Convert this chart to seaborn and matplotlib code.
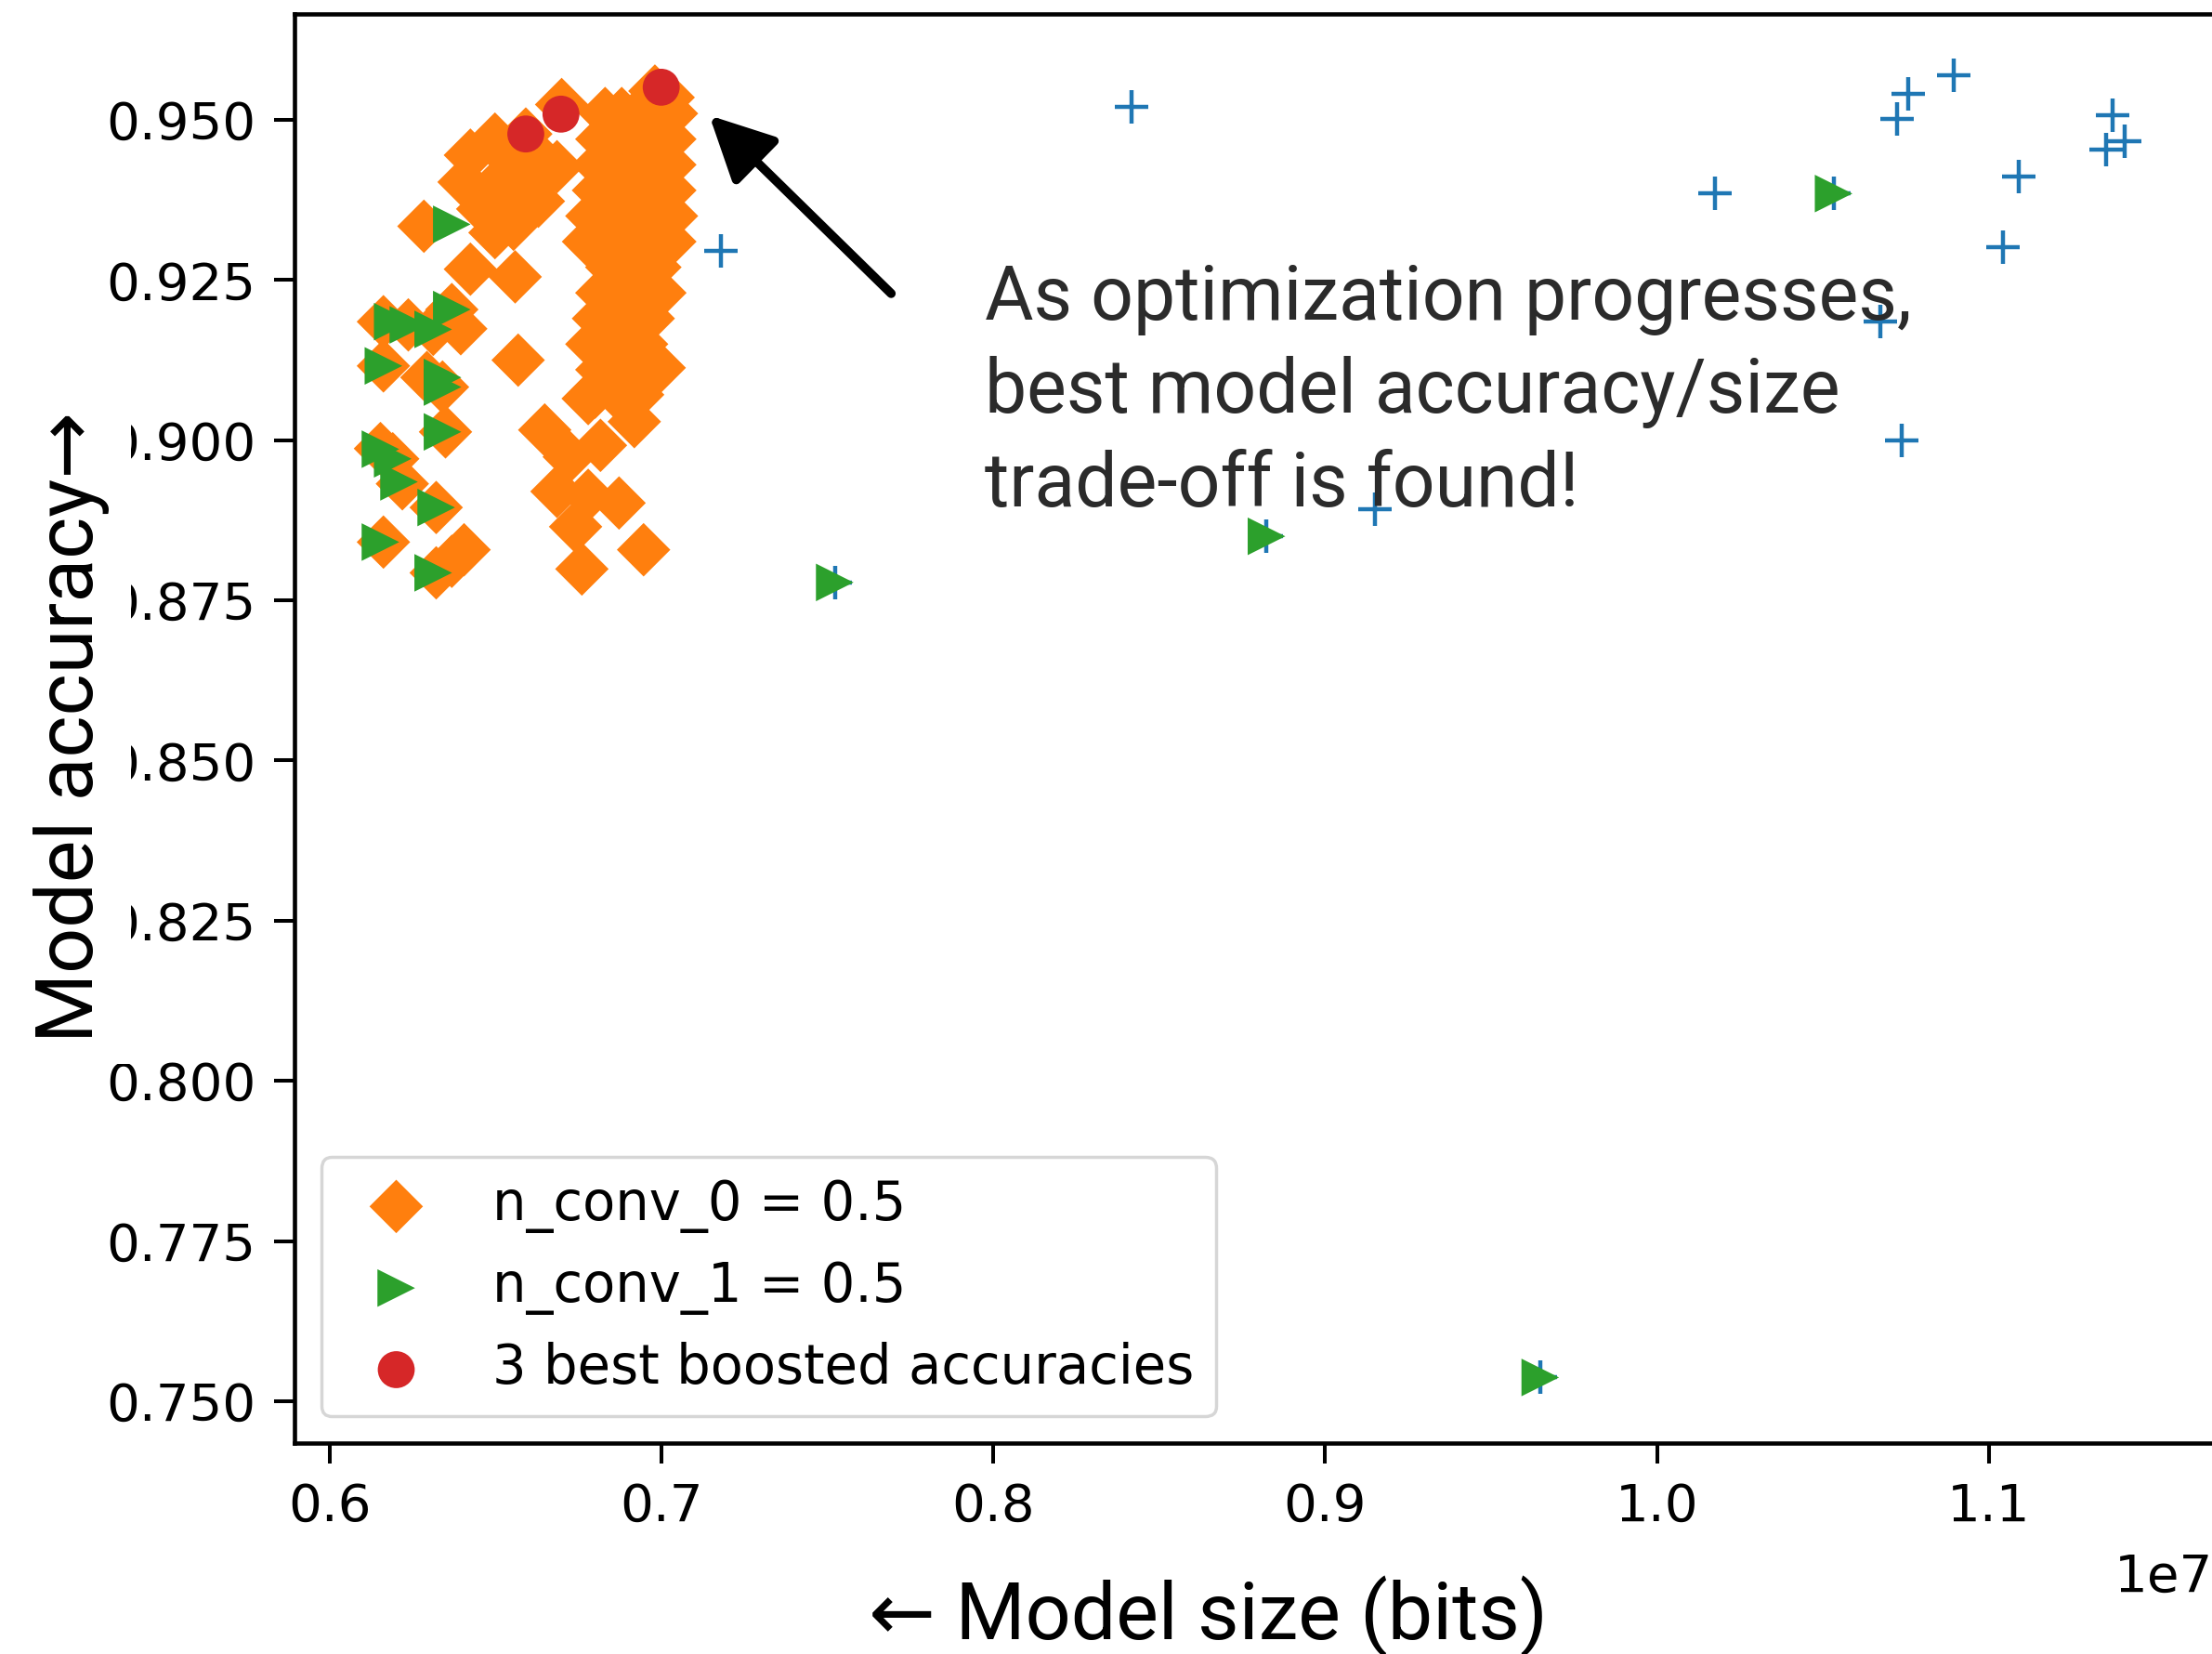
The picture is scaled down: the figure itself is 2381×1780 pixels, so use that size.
import matplotlib
matplotlib.use("Agg")
import matplotlib.pyplot as plt
import matplotlib.transforms as mtransforms
import seaborn as sns
import numpy as np
import pandas as pd

plt.rcParams['font.family'] = ['DejaVu Sans']

# ---------------- data (model size in units of 1e7 bits) ----------------
all_size = [0.8415, 0.7178, 1.0175, 1.0894, 1.0756, 1.0723, 1.1374, 1.1408, 1.1353,
            1.1089, 1.1043, 1.0673, 1.0736, 0.9150, 1.0532, 0.8823, 0.7522, 0.9648]
all_acc = [0.9520, 0.9295, 0.9385, 0.9570, 0.9540, 0.9502, 0.9507, 0.9467, 0.9454,
           0.9412, 0.9302, 0.9185, 0.9000, 0.8892, 0.9385, 0.8850, 0.8778, 0.7537]

conv0_size = [
    0.6284, 0.6424, 0.6559, 0.6568, 0.6395, 0.6162, 0.6237, 0.6312, 0.6368, 0.6162,
    0.6293, 0.6340, 0.6349, 0.6153, 0.6190, 0.6219, 0.6321, 0.6162, 0.6321, 0.6405,
    0.6368, 0.6648, 0.6722, 0.6816, 0.6918, 0.6946, 0.6685, 0.6779, 0.6872, 0.6741,
    0.6760, 0.6993, 0.6779, 0.6928,
    0.6424, 0.6498, 0.6554, 0.6648, 0.6405, 0.6498, 0.6610, 0.6685, 0.6461, 0.6554,
    0.6629, 0.6498, 0.6554, 0.6699, 0.6591, 0.6580,
    0.698, 0.702,
    0.683, 0.688, 0.693, 0.698, 0.703,
    0.682, 0.687, 0.692, 0.697, 0.7025,
    0.681, 0.686, 0.691, 0.696, 0.7025,
    0.681, 0.686, 0.691, 0.696, 0.7025,
    0.679, 0.684, 0.689, 0.694, 0.699, 0.703,
    0.678, 0.683, 0.688, 0.693, 0.698, 0.7025,
    0.685, 0.690, 0.694, 0.698,
    0.682, 0.687, 0.692, 0.696, 0.6995,
    0.681, 0.686, 0.691, 0.696,
    0.679, 0.684, 0.689, 0.694,
    0.682, 0.687, 0.692, 0.698,
    0.680, 0.686,
]
conv0_acc = [
    0.9334, 0.9267, 0.9255, 0.9125, 0.9174, 0.9185, 0.9180, 0.9173, 0.9204, 0.9116,
    0.9098, 0.9083, 0.9013, 0.8987, 0.8971, 0.8932, 0.8895, 0.8841, 0.8793, 0.8829,
    0.8811, 0.9016, 0.8974, 0.8992, 0.9029, 0.8829, 0.8920, 0.8914, 0.8902, 0.8865,
    0.8799, 0.9113, 0.9065, 0.9071,
    0.9445, 0.9470, 0.9433, 0.9433, 0.9403, 0.9397, 0.9397, 0.9427, 0.9361, 0.9361,
    0.9373, 0.9324, 0.9337, 0.9524, 0.9478, 0.9460,
    0.9545, 0.9535,
    0.951, 0.951, 0.951, 0.951, 0.951,
    0.947, 0.947, 0.947, 0.947, 0.947,
    0.943, 0.943, 0.943, 0.943, 0.943,
    0.939, 0.939, 0.939, 0.939, 0.939,
    0.935, 0.935, 0.935, 0.935, 0.935, 0.935,
    0.931, 0.931, 0.931, 0.931, 0.931, 0.931,
    0.927, 0.927, 0.927, 0.927,
    0.923, 0.923, 0.923, 0.923, 0.923,
    0.919, 0.919, 0.919, 0.919,
    0.915, 0.915, 0.915, 0.915,
    0.911, 0.911, 0.911, 0.911,
    0.9075, 0.9075,
]

conv1_size = [0.6368, 0.6190, 0.6237, 0.6312, 0.6368, 0.6162, 0.6340, 0.6340, 0.6340,
              0.6153, 0.6190, 0.6209, 0.6321, 0.6153, 0.6312, 0.7522, 0.8823, 1.0532,
              0.9648]
conv1_acc = [0.9337, 0.9185, 0.9180, 0.9173, 0.9204, 0.9116, 0.9098, 0.9083, 0.9013,
             0.8986, 0.8971, 0.8935, 0.8895, 0.8841, 0.8793, 0.8778, 0.8850, 0.9385,
             0.7537]

best_size = [0.6591, 0.6697, 0.6999]
best_acc = [0.9478, 0.9509, 0.9551]

x_ticks = [0.6, 0.7, 0.8, 0.9, 1.0, 1.1]
y_ticks = [0.750, 0.775, 0.800, 0.825, 0.850, 0.875, 0.900, 0.925, 0.950]

legend_labels = ["n_conv_0 = 0.5", "n_conv_1 = 0.5", "3 best boosted accuracies"]
annotation = "As optimization progresses,\nbest model accuracy/size\ntrade-off is found!"
x_label = "\u2190 Model size (bits)"
y_label = "Model accuracy\u2192"

SCALE = 1e7
df_all = pd.DataFrame({"size": np.array(all_size) * SCALE, "acc": all_acc})
df_c0 = pd.DataFrame({"size": np.array(conv0_size) * SCALE, "acc": conv0_acc})
df_c1 = pd.DataFrame({"size": np.array(conv1_size) * SCALE, "acc": conv1_acc})
df_best = pd.DataFrame({"size": np.array(best_size) * SCALE, "acc": best_acc})

# ---------------- figure ----------------
W, H = 2381, 1780
fig = plt.figure(figsize=(W / 100, H / 100), dpi=100)
ax = fig.add_axes([317 / W, 227 / H, 2065 / W, 1538 / H])

sns.scatterplot(data=df_all, x="size", y="acc", marker="+", s=650, color="#1f77b4",
                linewidth=3.2, ax=ax, legend=False)
sns.scatterplot(data=df_c0, x="size", y="acc", marker="D", s=860, color="#ff7f0e",
                edgecolor="none", linewidth=0, ax=ax, label=legend_labels[0])
sns.scatterplot(data=df_c1, x="size", y="acc", marker=">", s=850, color="#2ca02c",
                edgecolor="none", linewidth=0, ax=ax, label=legend_labels[1])
sns.scatterplot(data=df_best, x="size", y="acc", marker="o", s=820, color="#d62728",
                edgecolor="none", linewidth=0, ax=ax, label=legend_labels[2])

ax.set_xlim(0.5894 * SCALE, 1.1675 * SCALE)
ax.set_ylim(0.74346, 0.96654)
ax.set_xticks(np.array(x_ticks) * SCALE)
ax.set_yticks(y_ticks)

for sp in ax.spines.values():
    sp.set_linewidth(3.3)
    sp.set_color("black")
ax.tick_params(axis="both", length=16, width=2.9, pad=14, labelsize=40.5,
               colors="black")
offset_txt = ax.xaxis.get_offset_text()
offset_txt.set_fontsize(40.5)
offset_txt.set_transform(offset_txt.get_transform()
                         + mtransforms.ScaledTranslation(0, -13 / 72,
                                                         fig.dpi_scale_trans))

lab_font = ["Roboto", "DejaVu Sans"]
ax.set_xlabel(x_label, fontsize=62, family=lab_font, color="black")
ax.xaxis.set_label_coords(0.476, -0.093)
ax.set_ylabel(y_label, fontsize=62, family=lab_font, color="black",
              bbox=dict(facecolor="white", edgecolor="none", pad=17))
ax.yaxis.set_label_coords(-0.0965, 0.5010)

leg = ax.legend(loc="lower left", fontsize=41.5, borderaxespad=0.5,
                handletextpad=0.8)
leg.get_frame().set_linewidth(2.5)

ax.annotate("", xy=(0.7144 * SCALE, 0.9507), xytext=(0.7692 * SCALE, 0.9229),
            arrowprops=dict(arrowstyle="-|>,head_length=0.4,head_width=0.2",
                            color="black", lw=7, mutation_scale=105,
                            shrinkA=0, shrinkB=0))
ax.text(0.7973 * SCALE, 0.9277, annotation, fontsize=58, family=lab_font,
        color="#2b2b2b", ha="left", va="top", linespacing=1.37)

fig.savefig("out.png", dpi=100)
